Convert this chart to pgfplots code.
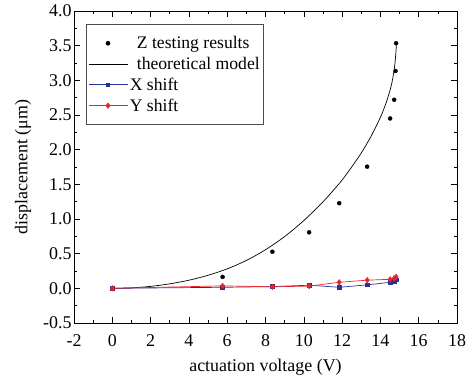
\documentclass[border=0pt]{standalone}
\usepackage{fontspec}
\setmainfont{Liberation Serif}
\usepackage{pgfplots}
\pgfplotsset{compat=1.18}
\definecolor{xblue}{RGB}{40,50,150}
\definecolor{yred}{RGB}{235,35,45}
\pgfplotsset{
  zleg/.style={legend image code/.code={\draw[##1] plot coordinates {(37.5bp,0bp)};}},
  lineleg/.style={legend image code/.code={\draw[mark repeat=2,mark phase=2,##1] plot coordinates {(18bp,0bp) (37.5bp,0bp) (57bp,0bp)};}},
}
\begin{document}
\begin{tikzpicture}
\begin{axis}[
  name=ax,
  scale only axis,
  width=383bp, height=312bp,
  xmin=-2, xmax=18, ymin=-0.5, ymax=4.0,
  xtick={-2,0,...,18}, ytick={-0.5,0,...,4.0},
  minor x tick num=1, minor y tick num=1,
  tick align=inside, tick pos=both,
  major tick length=6bp, minor tick length=3bp,
  every tick/.style={black, line width=0.6pt},
  axis line style={line width=0.9pt},
  /pgf/number format/assume math mode=true,
  font=\fontsize{18}{20}\selectfont,
  ticklabel style={font=\fontsize{18}{20}\selectfont},
  xticklabel style={yshift=-8bp, /pgf/number format/fixed},
  yticklabel style={xshift=1bp, /pgf/number format/.cd, fixed, fixed zerofill, precision=1},
  xlabel={actuation voltage (V)},
  ylabel={displacement (μm)},
  xlabel style={yshift=-6bp},
  ylabel style={yshift=5bp},
  legend cell align=left,
  legend style={at={(0.031,0.958)}, anchor=north west, draw=black!70, line width=0.6pt,
    font=\fontsize{17.7}{21}\selectfont, row sep=3bp, inner xsep=2bp, inner ysep=10bp},
  lineleg,
]
\addplot[only marks, mark=*, mark size=2bp, black, zleg]
  coordinates {(5.76,0.165) (8.36,0.528) (10.28,0.808) (11.85,1.228) (13.31,1.755) (14.51,2.45) (14.72,2.72) (14.79,3.135) (14.82,3.535)};
\addlegendentry{\hspace{7bp}Z testing results}
\addplot[black, line width=0.7pt, smooth, no marks]
  coordinates {(0,0) (1,0.007) (2,0.028) (3,0.065) (4,0.117) (5,0.188) (6,0.281) (7,0.402) (8,0.557) (9,0.747) (10,0.977) (11,1.247) (11.5,1.40) (12,1.562) (12.5,1.75) (13,1.952) (13.5,2.187) (14,2.467) (14.3,2.677) (14.5,2.853) (14.6,2.965) (14.7,3.115) (14.75,3.22) (14.8,3.365) (14.84,3.53)};
\addlegendentry{\hspace{7bp}theoretical model\hspace{19bp}}
\addplot[xblue, line width=0.7pt, mark=square*, mark size=1.8bp, mark options={fill=xblue}]
  coordinates {(0,0) (5.76,0.015) (8.36,0.025) (10.28,0.045) (11.85,0.015) (13.31,0.05) (14.51,0.087) (14.72,0.10) (14.82,0.12)};
\addlegendentry{X shift}
\addplot[yred, line width=0.7pt, mark=diamond*, mark size=2.6bp, mark options={fill=yred}]
  coordinates {(0,0) (5.76,0.035) (8.36,0.022) (10.28,0.032) (11.85,0.087) (13.31,0.118) (14.51,0.13) (14.72,0.145) (14.82,0.165)};
\addlegendentry{Y shift}
\end{axis}
\pgfresetboundingbox
\path[use as bounding box] ([xshift=-74bp,yshift=-58bp]ax.south west) rectangle ([xshift=12bp,yshift=11bp]ax.north east);
\end{tikzpicture}
\end{document}
